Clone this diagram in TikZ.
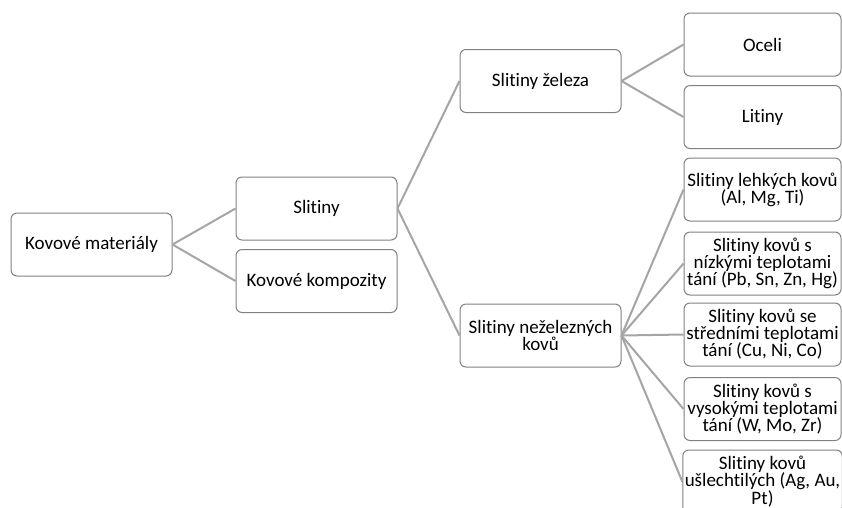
\documentclass[tikz,border=0pt]{standalone}
\usepackage{fontspec}
\setmainfont{Carlito}[Ligatures=NoCommon]
\usepackage{tikz}
\usetikzlibrary{positioning}

\definecolor{boxgray}{RGB}{128,128,128}
\definecolor{linegray}{RGB}{165,165,165}

\begin{document}
\begin{tikzpicture}[x=1pt,y=-1pt,
  box/.style={draw=boxgray,line width=1pt,rounded corners=6pt,align=center,
    minimum width=161pt,minimum height=63pt,inner sep=2pt,
    font=\fontsize{19}{17}\selectfont},
  leaf/.style={box,minimum width=157pt},
  link/.style={draw=linegray,line width=2pt}]
\useasboundingbox (0,0) rectangle (842,507);
% levels from left to right
\node[box] (km) at (91.5,244.5) {Kovové materiály};
\node[box] (sl) at (316.5,208.5) {Slitiny};
\node[box] (kk) at (316.5,281) {Kovové kompozity};
\node[box] (sz) at (540.5,81) {Slitiny železa};
\node[box] (snz) at (540.5,335.5) {Slitiny neželezných\\kovů};
\node[leaf] (oc) at (762.5,44.5) {Oceli};
\node[leaf] (li) at (762.5,117) {Litiny};
\node[leaf] (lk) at (762.5,189.5) {Slitiny lehkých kovů\\(Al, Mg, Ti)};
\node[leaf] (nt) at (762.5,263.5) {Slitiny kovů s\\nízkými teplotami\\tání (Pb, Sn, Zn, Hg)};
\node[leaf] (st) at (762.5,334.5) {Slitiny kovů se\\středními teplotami\\tání (Cu, Ni, Co)};
\node[leaf] (vt) at (762.5,409) {Slitiny kovů s\\vysokými teplotami\\tání (W, Mo, Zr)};
\node[leaf] (us) at (762.5,481.5) {Slitiny kovů\\ušlechtilých (Ag, Au,\\Pt)};
% connectors
\draw[link] (km.east) -- (sl.west);
\draw[link] (km.east) -- (kk.west);
\draw[link] (sl.east) -- (sz.west);
\draw[link] (sl.east) -- (snz.west);
\draw[link] (sz.east) -- (oc.west);
\draw[link] (sz.east) -- (li.west);
\foreach \n in {lk,nt,st,vt,us}
  \draw[link] (snz.east) -- (\n.west);
\end{tikzpicture}
\end{document}
